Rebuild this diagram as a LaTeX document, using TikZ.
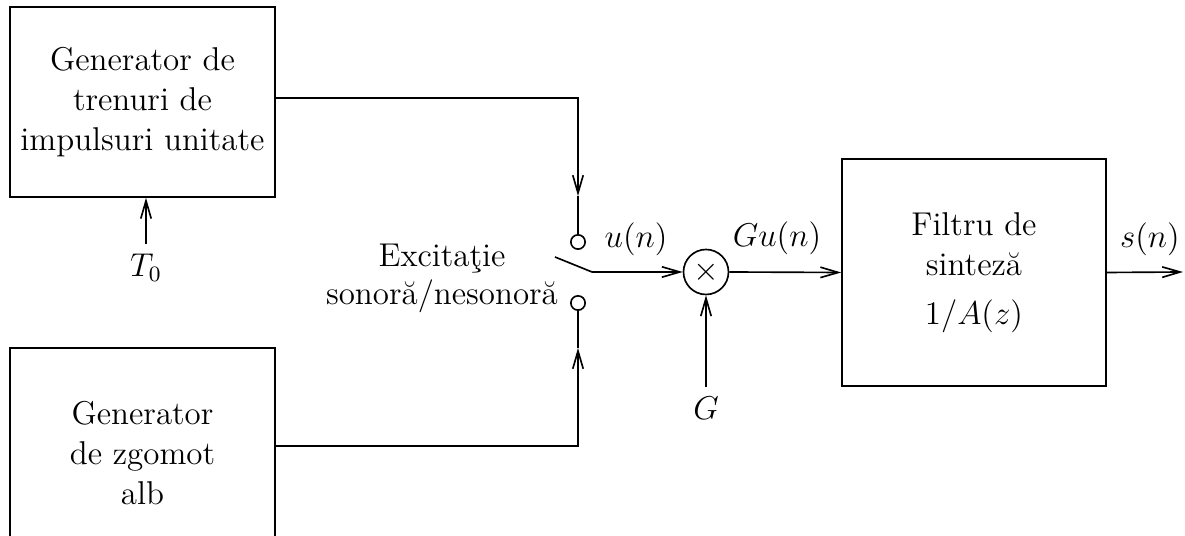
\documentclass[tikz,border=0pt]{standalone}
\usepackage{fontspec}
\usetikzlibrary{arrows.meta}
\begin{document}
\begin{tikzpicture}[x=0.364pt,y=-0.364pt,
  line width=0.6pt,
  >={Straight Barb[length=6.5pt,width=3.8pt]},
  every node/.style={font=\fontsize{12}{14.5}\selectfont},
  block/.style={draw, align=center, inner sep=0pt},
  contact/.style={draw, circle, minimum size=5.2pt, inner sep=0pt},
  lbl/.style={anchor=base, inner sep=0pt},
  tlbl/.style={anchor=base}]
\clip (0,0) rectangle (1185,536);
% blocks
\node[block, minimum width={265*0.364pt}, minimum height={190*0.364pt}] (gen1) at (142.5,102)
  {Generator de\\trenuri de\\impulsuri unitate};
\node[block, minimum width={265*0.364pt}, minimum height={210*0.364pt}] (gen2) at (142.5,453)
  {Generator\\de zgomot\\alb};
\node[block, minimum width={264*0.364pt}, minimum height={227*0.364pt}] (filt) at (974,272.5)
  {Filtru de\\sinteză\\[3.5pt]$1/A(z)$};
\node[draw, circle, minimum size={45*0.364pt}, inner sep=0pt] (mult) at (706,272) {$\times$};
% switch contacts
\node[contact] (c1) at (578,242) {};
\node[contact] (c2) at (578,303) {};
% labels
\node[tlbl] (t0) at (146,277) {$T_0$};
\node[tlbl] (g) at (706,420) {$G$};
\node[lbl] (un) at (636,248) {$u(n)$};
\node[lbl] (gun) at (777,247) {$Gu(n)$};
\node[lbl] (sn) at (1150,248) {$s(n)$};
\node[lbl] (exc1) at (442,267) {Excitaţie};
\node[lbl] (exc2) at (442,305) {sonoră/nesonoră};
% coordinates
\coordinate (a1) at (578,196);
\coordinate (a2) at (578,348);
\coordinate (lv1) at (555,257);
\coordinate (lv2) at (592,272);
\coordinate (out) at (1183,272);
% connectors
\draw[->] ([yshift={4*0.364pt}]gen1.east) -| (a1);
\draw (a1) -- (c1.north);
\draw[->] ([yshift={7*0.364pt}]gen2.east) -| (a2);
\draw (a2) -- (c2.south);
\draw (lv1) -- (lv2);
\draw[->] (lv2) -- (mult.west);
\draw[->] (mult.east) -- (filt.west);
\draw[->] (filt.east) -- (out);
\draw[->] (t0.north) -- (t0.north |- gen1.south);
\draw[->] (g.north) -- (mult.south);
\end{tikzpicture}
\end{document}
